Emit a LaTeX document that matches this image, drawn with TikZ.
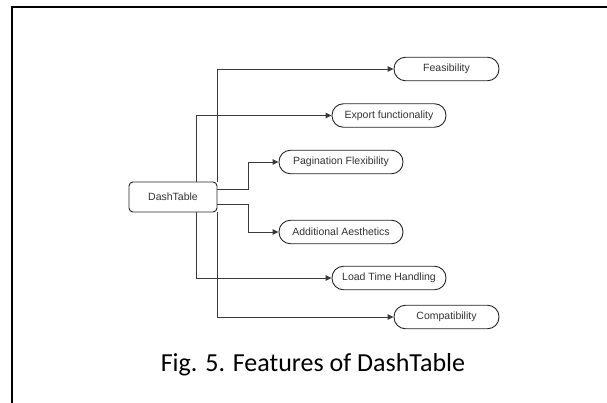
\documentclass[tikz,border=0pt]{standalone}
\usepackage{fontspec}
\setmainfont{Liberation Sans}
\newfontfamily\capfont{Carlito}
\usetikzlibrary{arrows.meta,positioning,calc}
\definecolor{inkgray}{HTML}{333333}
\definecolor{wiregray}{HTML}{3A3A3A}

\begin{document}
\begin{tikzpicture}[
    x=1pt, y=-1pt,
    font=\fontsize{10.5}{12}\selectfont,
    root/.style={draw=black!85, rounded corners=4pt, align=center, minimum width=88pt, minimum height=30pt, text=inkgray, line width=0.9pt},
    leaf/.style={draw=black!85, rounded corners=11.5pt, align=center, minimum height=23.5pt, text=inkgray, line width=0.9pt, inner sep=0pt},
    line/.style={-{Triangle[length=6pt,width=5.5pt]}, draw=wiregray, line width=0.9pt}
]
    \useasboundingbox (0,0) rectangle (607,403);
    \draw[line width=2pt] (12,403) -- (12,7) -- (607,7);

    \node[root] (hub) at (173,197) {DashTable};

    \node[leaf, minimum width=105pt] (feas) at (446.5,69) {Feasibility};
    \node[leaf, minimum width=114pt] (export) at (389,115.5) {Export functionality};
    \node[leaf, minimum width=124pt] (pagin) at (341,162) {Pagination Flexibility};
    \node[leaf, minimum width=124pt] (aesth) at (341,232) {Additional Aesthetics};
    \node[leaf, minimum width=114pt] (load) at (389,278) {Load Time Handling};
    \node[leaf, minimum width=105pt] (compat) at (446.5,317) {Compatibility};

    \draw[line] (hub.north east) |- (feas);
    \draw[line] ([xshift=-21.5pt]hub.north east) |- (export);
    \draw[line] ([yshift=8pt]hub.east) -- ++(31pt,0pt) |- (pagin);
    \draw[line] ([yshift=-7pt]hub.east) -- ++(31pt,0pt) |- (aesth);
    \draw[line] ([xshift=-21.5pt]hub.south east) |- (load);
    \draw[line] (hub.south east) |- (compat);

    \node[anchor=base, font=\capfont\fontsize{26}{30}\selectfont] (caption) at (313,371) {Fig. 5. Features of DashTable};
\end{tikzpicture}
\end{document}
